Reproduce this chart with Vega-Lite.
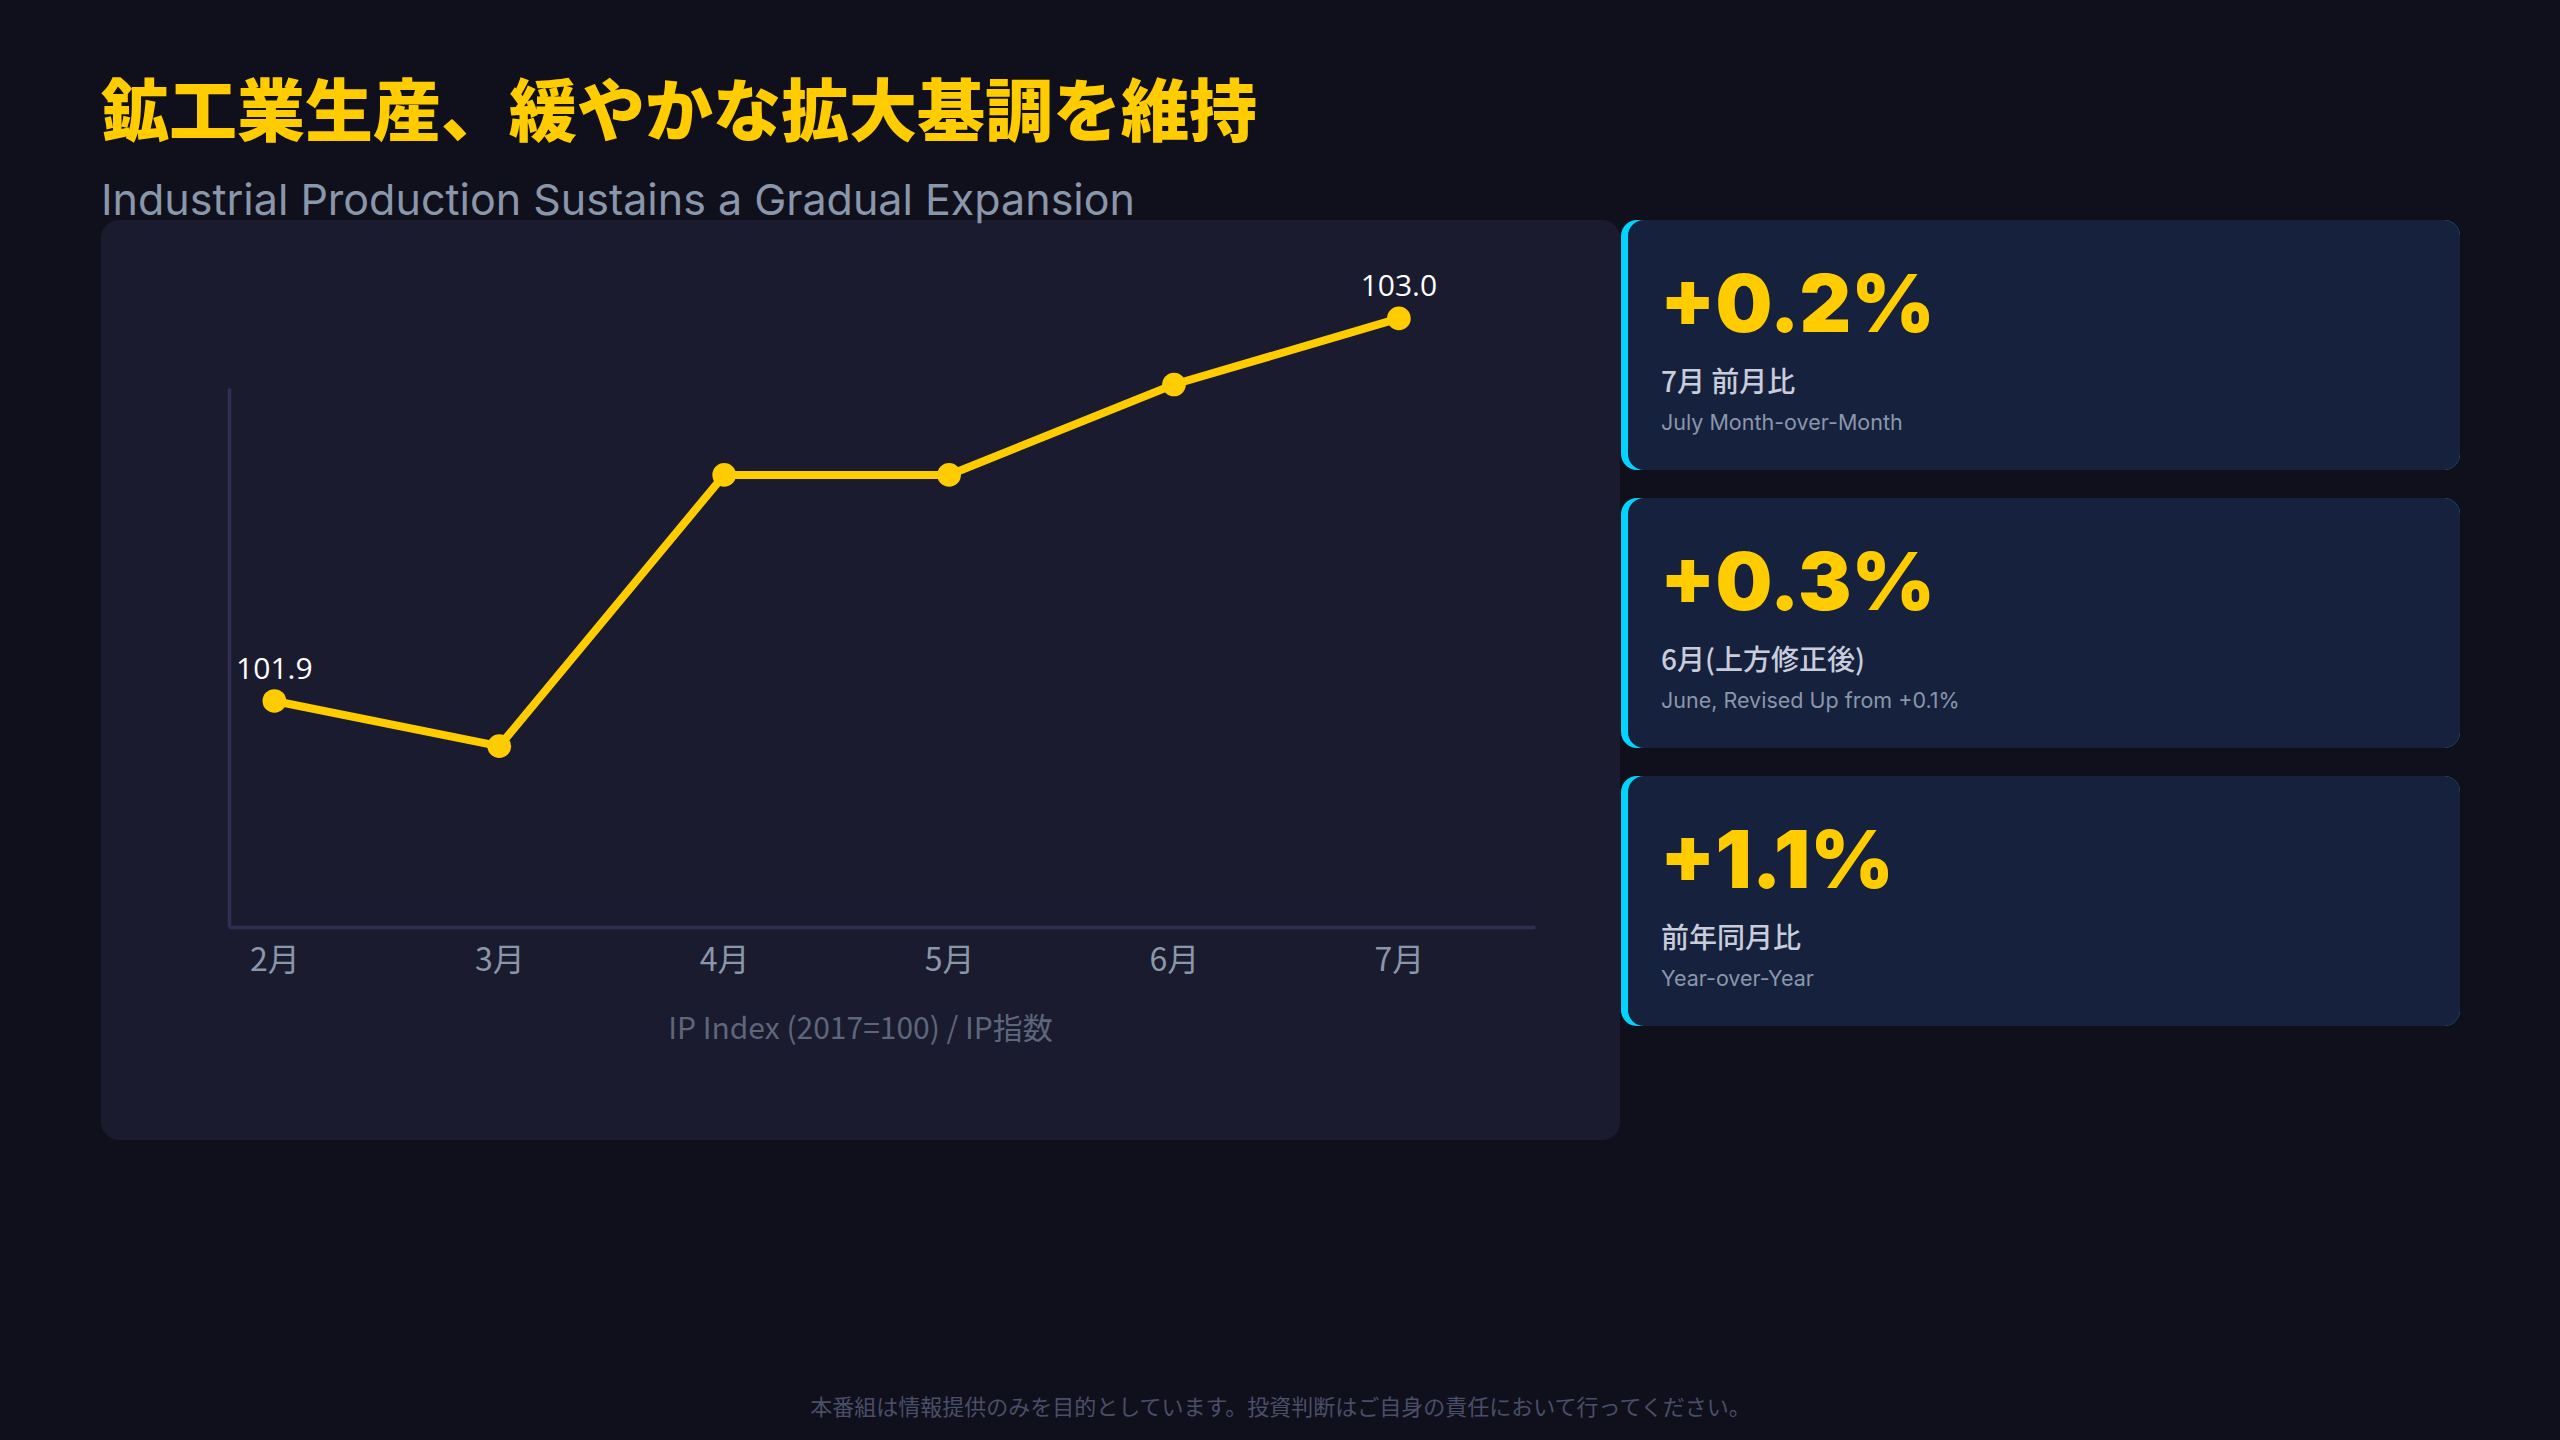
{
  "$schema": "https://vega.github.io/schema/vega-lite/v6.json",
  "background": "#10101d",
  "padding": {"left": 101, "right": 100, "top": 82, "bottom": 12},
  "title": {
    "text": "鉱工業生産、緩やかな拡大基調を維持",
    "subtitle": "Industrial Production Sustains a Gradual Expansion",
    "anchor": "start",
    "font": "Noto Sans CJK JP",
    "fontSize": 68,
    "fontWeight": 900,
    "color": "#FFCC00",
    "subtitleFont": "Inter",
    "subtitleFontSize": 43,
    "subtitleFontWeight": 400,
    "subtitleColor": "#8a96aa",
    "subtitlePadding": 31,
    "offset": -4
  },
  "spacing": 248,
  "vconcat": [
    {
      "spacing": 1,
      "hconcat": [
        {
          "width": 1519,
          "height": 920,
          "view": {"fill": "#1a1b2e", "cornerRadius": 18, "stroke": null},
          "data": {
            "values": [
              {"month": "2月", "index": 101.9},
              {"month": "3月", "index": 101.77},
              {"month": "4月", "index": 102.55},
              {"month": "5月", "index": 102.55},
              {"month": "6月", "index": 102.81},
              {"month": "7月", "index": 103.0}
            ]
          },
          "encoding": {
            "x": {
              "field": "month",
              "type": "ordinal",
              "sort": null,
              "scale": {"type": "point", "range": [128, 1434], "padding": 0.4035, "align": 0.25},
              "axis": {
                "orient": "bottom",
                "offset": -213,
                "domainColor": "#302e52",
                "domainWidth": 3.5,
                "ticks": false,
                "grid": false,
                "labelAngle": 0,
                "labelFont": "Noto Sans CJK JP",
                "labelFontSize": 32,
                "labelColor": "#8a96aa",
                "labelPadding": 18,
                "title": "IP Index (2017=100) / IP指数",
                "titleFont": "Noto Sans CJK JP",
                "titleFontSize": 30,
                "titleFontWeight": 400,
                "titleColor": "#5e667c",
                "titlePadding": 38,
                "titleX": 759
              }
            },
            "y": {
              "field": "index",
              "type": "quantitative",
              "scale": {"domain": [101.25, 102.8], "range": [707, 168], "zero": false, "nice": false},
              "axis": {
                "orient": "left",
                "offset": -128,
                "domainColor": "#302e52",
                "domainWidth": 3.5,
                "ticks": false,
                "labels": false,
                "grid": false,
                "title": null
              }
            }
          },
          "layer": [
            {"mark": {"type": "line", "color": "#FFCC00", "strokeWidth": 8}},
            {"mark": {"type": "circle", "color": "#FFCC00", "size": 560, "opacity": 1}},
            {
              "transform": [{"filter": "datum.month == '2月' || datum.month == '7月'"}],
              "mark": {
                "type": "text",
                "font": "Open Sans",
                "fontSize": 30,
                "fontWeight": 400,
                "color": "#ffffff",
                "align": "center",
                "baseline": "alphabetic",
                "dy": -22
              },
              "encoding": {"text": {"field": "index", "type": "quantitative", "format": ".1f"}}
            }
          ]
        },
        {
          "width": 839,
          "height": 806,
          "view": {"stroke": null},
          "data": {
            "values": [
              {"order": 1, "value": "+0.2%", "ja": "7月 前月比", "en": "July Month-over-Month"},
              {"order": 2, "value": "+0.3%", "ja": "6月(上方修正後)", "en": "June, Revised Up from +0.1%"},
              {"order": 3, "value": "+1.1%", "ja": "前年同月比", "en": "Year-over-Year"}
            ]
          },
          "encoding": {
            "y": {
              "field": "order",
              "type": "ordinal",
              "scale": {"paddingInner": 0.1007, "paddingOuter": 0},
              "axis": null
            },
            "x": {"datum": 0, "type": "quantitative", "scale": {"domain": [0, 1]}, "axis": null}
          },
          "layer": [
            {
              "mark": {"type": "rect", "fill": "#00d4ff", "cornerRadius": 16},
              "encoding": {"x2": {"datum": 1}}
            },
            {
              "mark": {"type": "rect", "fill": "#16213e", "cornerRadius": 16, "xOffset": 7},
              "encoding": {"x2": {"datum": 1}}
            },
            {
              "mark": {
                "type": "text",
                "font": "Inter",
                "fontSize": 80,
                "fontWeight": 900,
                "color": "#FFCC00",
                "align": "left",
                "baseline": "alphabetic",
                "dx": 39,
                "dy": -13
              },
              "encoding": {"text": {"field": "value"}}
            },
            {
              "mark": {
                "type": "text",
                "font": "Noto Sans CJK JP",
                "fontSize": 28,
                "fontWeight": 500,
                "color": "#c9ccda",
                "align": "left",
                "baseline": "alphabetic",
                "dx": 40,
                "dy": 47
              },
              "encoding": {"text": {"field": "ja"}}
            },
            {
              "mark": {
                "type": "text",
                "font": "Inter",
                "fontSize": 21.5,
                "fontWeight": 400,
                "color": "#8a96aa",
                "align": "left",
                "baseline": "alphabetic",
                "dx": 40,
                "dy": 85
              },
              "encoding": {"text": {"field": "en"}}
            }
          ]
        }
      ]
    },
    {
      "width": 2359,
      "height": 40,
      "view": {"stroke": null},
      "data": {"values": [{"note": "本番組は情報提供のみを目的としています。投資判断はご自身の責任において行ってください。"}]},
      "mark": {"type": "text", "font": "Noto Sans CJK JP", "fontSize": 22, "color": "#4a4e68", "align": "center", "baseline": "middle"},
      "encoding": {"text": {"field": "note"}}
    }
  ],
  "config": {
    "view": {"stroke": null}
  }
}
